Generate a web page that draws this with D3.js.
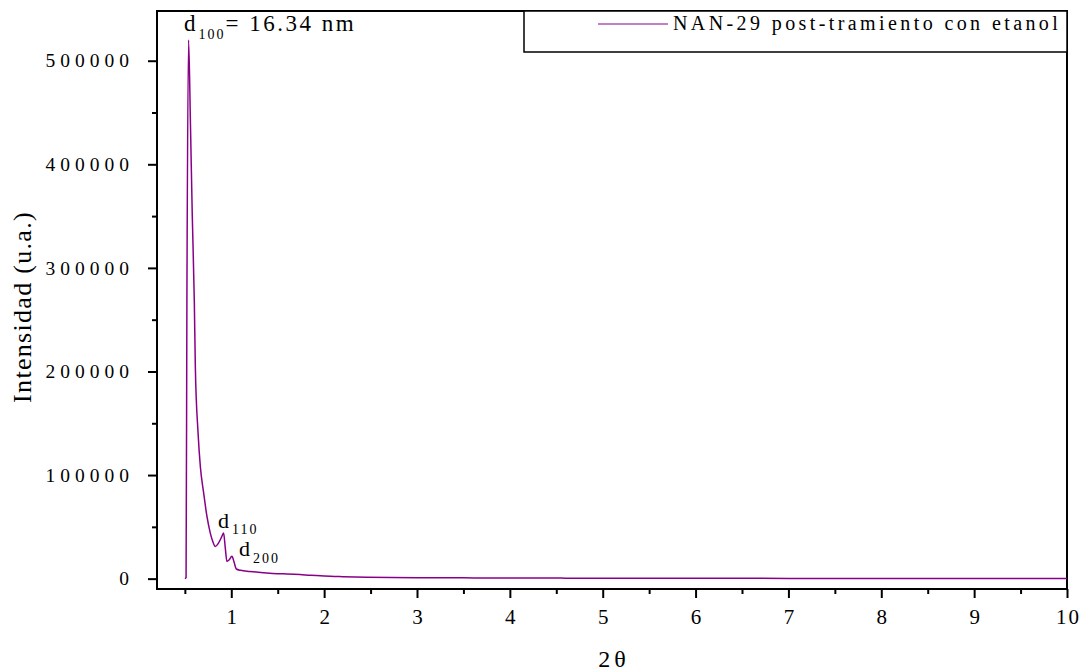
<!DOCTYPE html>
<html><head><meta charset="utf-8">
<script src="https://cdn.jsdelivr.net/npm/d3@7"></script>
</head>
<body style="margin:0;background:#fff">
<svg id="c" width="1081" height="672"></svg>
<script>
const twoTheta = [0.5,0.513,0.522,0.54,0.56,0.58,0.602,0.613,0.642,0.667,0.702,0.738,0.774,0.80,0.828,0.86,0.895,0.917,0.935,0.953,0.975,1.007,1.03,1.054,1.1,1.2,1.38,1.5,1.6,1.74,1.85,2.0,2.2,2.46,3.0,3.5,4.0,4.4,4.5,4.6,5.0,6.0,7.0,8.0,9.0,10.0];
const intensity = [0,1000,267000,520000,440000,350000,267000,204000,141000,108000,83000,60000,44000,36000,31000,34000,40000,44000,30000,16700,18000,21500,16000,9300,8000,7000,5500,4800,4500,3900,3200,2500,1900,1300,900,750,600,500,650,480,400,300,250,200,150,100];
const xTicks = [1,2,3,4,5,6,7,8,9,10];
const yTicks = [0,100000,200000,300000,400000,500000];
const seriesName = "NAN-29 post-tramiento con etanol";

const svg = d3.select("#c");
const L=157,R=1067,T=11,B=589;
const x = d3.scaleLinear().domain([0.2,10]).range([L,R]);
const y = d3.scaleLinear().domain([-10000,548000]).range([B,T]);
const FF = "Liberation Serif";

svg.append("rect").attr("x",L).attr("y",T).attr("width",R-L).attr("height",B-T)
  .attr("fill","none").attr("stroke","#000").attr("stroke-width",2);

const line = d3.line().x((d,i)=>x(twoTheta[i])).y((d,i)=>y(intensity[i])).curve(d3.curveMonotoneX);
svg.append("path").datum(intensity).attr("d",line).attr("fill","none")
  .attr("stroke","#880088").attr("stroke-width",1.5);

const xMinor = d3.range(0.5,10,1);
const gx = svg.append("g").attr("transform",`translate(0,${B})`);
gx.call(d3.axisBottom(x).tickValues(xMinor).tickSize(5).tickFormat(""));
gx.select(".domain").remove();
const gx2 = svg.append("g").attr("transform",`translate(0,${B})`);
gx2.call(d3.axisBottom(x).tickValues(xTicks).tickSize(9).tickPadding(11).tickFormat(d3.format("d")));
gx2.attr("font-family",FF);
gx2.select(".domain").remove();
gx2.selectAll("text").attr("font-family",FF).attr("font-size",21).attr("letter-spacing",2).attr("dx",1).attr("fill","#000");

const yMinor = d3.range(50000,550000,100000);
const gy = svg.append("g").attr("transform",`translate(${L},0)`);
gy.call(d3.axisLeft(y).tickValues(yMinor).tickSize(5).tickFormat(""));
gy.select(".domain").remove();
const gy2 = svg.append("g").attr("transform",`translate(${L},0)`);
gy2.call(d3.axisLeft(y).tickValues(yTicks).tickSize(9).tickPadding(14).tickFormat(d3.format("d")));
gy2.attr("font-family",FF);
gy2.select(".domain").remove();
gy2.selectAll("text").attr("font-family",FF).attr("font-size",19.5).attr("letter-spacing",5).attr("fill","#000");
svg.selectAll(".tick line").attr("stroke-width",2);

svg.append("text").attr("x",x(5.1)+2).attr("y",667).attr("text-anchor","middle")
  .attr("font-family",FF).attr("font-size",24).attr("letter-spacing",4).text("2θ");
svg.append("text").attr("transform","translate(31,307) rotate(-90)").attr("text-anchor","middle")
  .attr("font-family",FF).attr("font-size",26).attr("letter-spacing",1.3).text("Intensidad (u.a.)");

svg.append("rect").attr("x",524).attr("y",T).attr("width",R-524).attr("height",41)
  .attr("fill","#fff").attr("stroke","#000").attr("stroke-width",1.5);
svg.append("line").attr("x1",598).attr("x2",668).attr("y1",24).attr("y2",24)
  .attr("stroke","#880088").attr("stroke-width",1.2);
svg.append("text").attr("x",673).attr("y",30).attr("font-family",FF).attr("font-size",20).attr("letter-spacing",3.4)
  .text(seriesName);

function dlabel(px,py,sub,rest,size,subsize,sdy){
  const t = svg.append("text").attr("x",px).attr("y",py).attr("font-family",FF).attr("font-size",size);
  t.append("tspan").text("d");
  t.append("tspan").attr("dy",sdy).attr("dx",3).attr("font-size",subsize).attr("letter-spacing",2).text(sub);
  if(rest) t.append("tspan").attr("dy",-sdy).attr("letter-spacing",2.5).text(rest);
}
dlabel(184,31,"100","= 16.34 nm",23,14,8);
dlabel(218,528,"110","",22,14,6);
dlabel(239,556,"200","",22,14,7);
</script></body></html>
